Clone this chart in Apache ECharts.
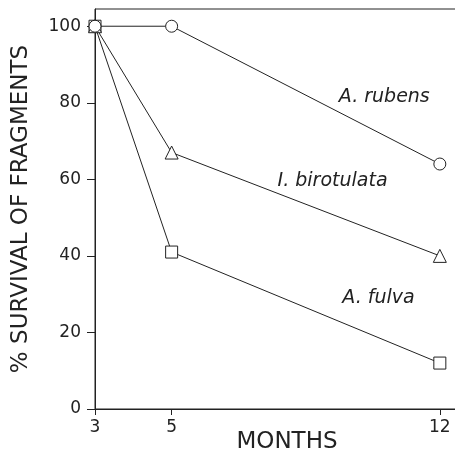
<!DOCTYPE html>
<html>
<head>
<meta charset="utf-8">
<script src="https://cdn.jsdelivr.net/npm/echarts@6/dist/echarts.min.js"></script>
<style>
  html, body { margin: 0; padding: 0; background: #fff; }
  #chart { width: 455px; height: 458px; }
</style>
</head>
<body>
<div id="chart"></div>
<script>
// months after start
const months = [3, 5, 12];
const xTicks = [3, 5, 12];
const yTicks = [0, 20, 40, 60, 80, 100];

// % survival of fragments
const rubens = [100, 100, 64];
const birotulata = [100, 67, 40];
const fulva = [100, 41, 12];

const species = ['A. rubens', 'I. birotulata', 'A. fulva'];
// where each species name sits, in data units
const labelAt = [[10.55, 81.5], [9.2, 59.5], [10.4, 29]];

const font = 'DejaVu Sans';
const ink = '#222';

const chart = echarts.init(document.getElementById('chart'));

function pairs(vals) {
    return months.map((m, i) => [m, vals[i]]);
}

function makeSeries(name, vals, symbol, idx) {
    return {
        name,
        type: 'line',
        data: pairs(vals),
        symbol,
        symbolSize: symbol === 'triangle' ? 13 : 12,
        showAllSymbol: true,
        lineStyle: { color: ink, width: 1 },
        itemStyle: { color: '#fff', borderColor: ink, borderWidth: 1 },
        z: 3 - idx,
        markPoint: {
            symbol: 'circle',
            symbolSize: 0,
            data: [{
                coord: labelAt[idx],
                label: {
                    show: true,
                    position: 'inside',
                    formatter: name,
                    fontFamily: font,
                    fontStyle: 'italic',
                    fontSize: 19,
                    color: ink
                }
            }]
        }
    };
}

chart.setOption({
    animation: false,
    grid: {
        left: 95,
        right: -4,
        top: 9,
        bottom: 49,
        outerBoundsMode: 'none',
        containLabel: false,
        show: true,
        borderColor: ink,
        borderWidth: 1
    },
    xAxis: {
        type: 'value',
        min: 3,
        max: 12.5,
        name: 'MONTHS',
        nameLocation: 'middle',
        nameGap: 22,
        nameMoveOverlap: false,
        nameTextStyle: { fontFamily: font, fontSize: 23, color: ink, padding: [0, 0, 0, 20] },
        splitLine: { show: false },
        axisLine: { lineStyle: { color: ink, width: 1 } },
        axisTick: { show: true, length: 6, inside: false, customValues: xTicks, lineStyle: { color: ink } },
        axisLabel: { customValues: xTicks, fontFamily: font, fontSize: 17, color: ink, margin: 10 }
    },
    yAxis: {
        type: 'value',
        min: 0,
        max: 104.5,
        name: '% SURVIVAL OF FRAGMENTS',
        nameLocation: 'middle',
        nameGap: 62,
        nameMoveOverlap: false,
        nameTextStyle: { fontFamily: font, fontSize: 23, color: ink },
        splitLine: { show: false },
        axisLine: { show: true, lineStyle: { color: ink, width: 1 } },
        axisTick: { show: true, length: 8, customValues: yTicks, lineStyle: { color: ink } },
        axisLabel: { customValues: yTicks, fontFamily: font, fontSize: 17, color: ink, margin: 14 }
    },
    series: [
        makeSeries(species[0], rubens, 'circle', 0),
        makeSeries(species[1], birotulata, 'triangle', 1),
        makeSeries(species[2], fulva, 'rect', 2)
    ]
});
</script>
</body>
</html>
